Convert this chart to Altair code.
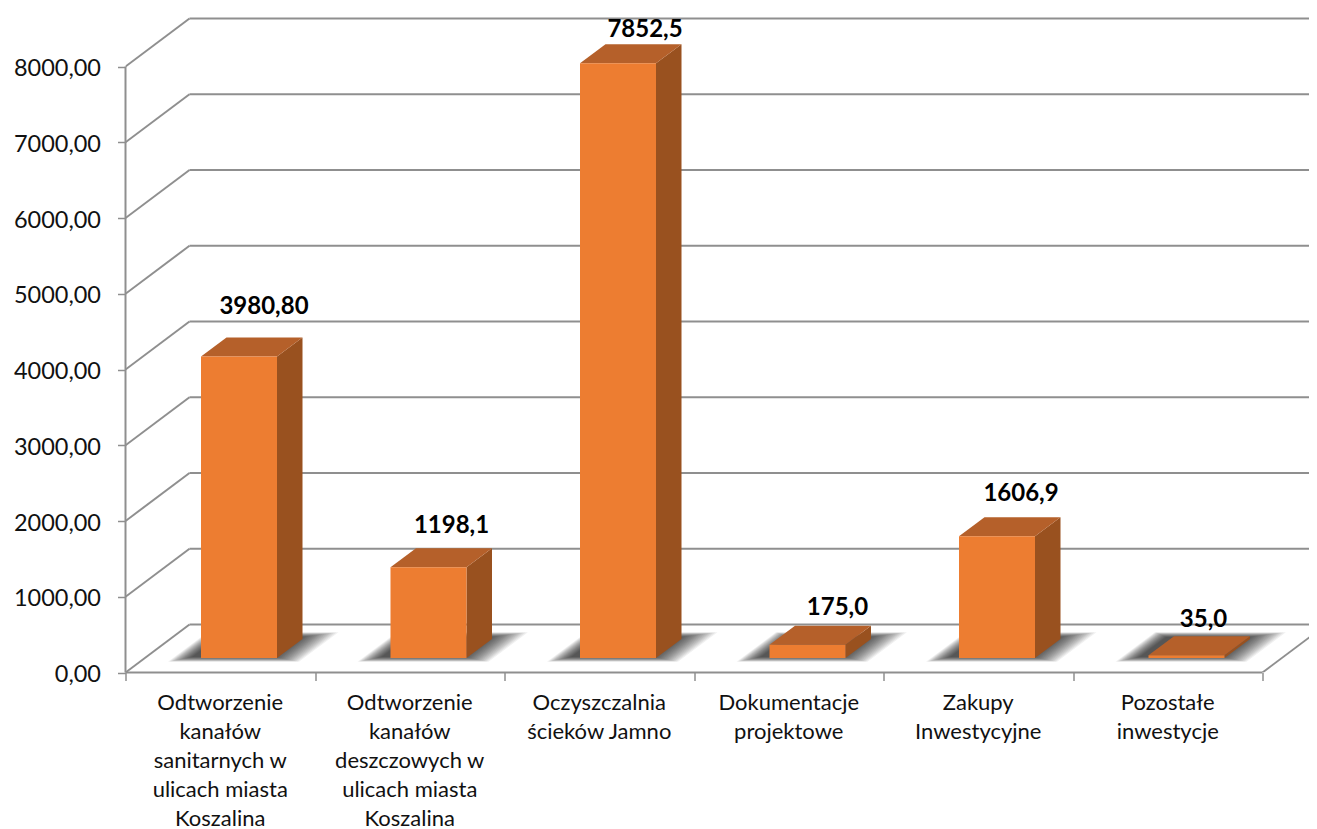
import altair as alt
import pandas as pd

# ---- chart data ----
categories = [
    "Odtworzenie\nkanałów\nsanitarnych w\nulicach miasta\nKoszalina",
    "Odtworzenie\nkanałów\ndeszczowych w\nulicach miasta\nKoszalina",
    "Oczyszczalnia\nścieków Jamno",
    "Dokumentacje\nprojektowe",
    "Zakupy\nInwestycyjne",
    "Pozostałe\ninwestycje",
]
values = [3980.80, 1198.1, 7852.5, 175.0, 1606.9, 35.0]
value_labels = ["3980,80", "1198,1", "7852,5", "175,0", "1606,9", "35,0"]
y_ticks = [0, 1000, 2000, 3000, 4000, 5000, 6000, 7000, 8000]

# ---- layout (pixels on the reference) ----
PX_LEFT, PX_RIGHT, PX_TOP, PX_FLOOR = 125.5, 1309.0, 17.0, 672.5
PX_PER_CAT = 189.5
PX_PER_UNIT = 606.0 / 8000.0
WALL_DX, WALL_DY = 64.0, 48.0
BAR_X0, BAR_W = 75.5, 76.0
BAR_LIFT = 14.5
BAR_DX, BAR_DY = 25.5, 19.0
label_shift = [(25, 49), (23, 41), (27, 33), (30, 37), (24, 42), (17, 35)]

W = PX_RIGHT - PX_LEFT
H = PX_FLOOR - PX_TOP
xu = lambda px: px / PX_PER_CAT
yu = lambda px: px / PX_PER_UNIT
X_DOM = [0, xu(W)]
Y_DOM = [0, yu(H)]
n = len(categories)

GRID = "#8f8f8f"
FRONT = "#ED7D31"
SIDE = "#99511F"
TOP = "#B5602A"
FONT = "Lato"

xs = alt.Scale(domain=X_DOM, nice=False, zero=False)
ys = alt.Scale(domain=Y_DOM, nice=False, zero=False)
x_axis = alt.Axis(
    values=list(range(n + 1)), labels=False, domain=False, grid=False,
    ticks=True, tickColor=GRID, tickWidth=1.5, tickSize=8, title=None,
)
y_axis = alt.Axis(
    values=y_ticks, domain=False, grid=False, ticks=True, tickColor=GRID,
    tickWidth=1.5, tickSize=8, labelFont=FONT, labelFontSize=23.5,
    labelColor="#111111", labelPadding=17, labelOffset=2, title=None,
    labelExpr="replace(format(datum.value,'.2f'),'.',',')",
)
X = lambda f="x": alt.X(f + ":Q", scale=xs, axis=x_axis)
Y = lambda f="y": alt.Y(f + ":Q", scale=ys, axis=y_axis, stack=None)


def para(pid, a, b, f, dx, dy):
    """Parallelogram as an area: front edge a..b at height f, shifted back by dx, dy."""
    pts = sorted({a, a + dx, b, b + dx})
    rows = []
    for x in pts:
        low = f if x <= b else f + dy * (x - b) / dx
        high = f + dy if x >= a + dx else f + dy * (x - a) / dx
        rows.append({"id": pid, "x": x, "y": high, "y2": low})
    return rows


# walls
back = pd.DataFrame({"v": y_ticks})
back["x"] = xu(WALL_DX)
back["x2"] = X_DOM[1]
back["y"] = back["v"] + yu(WALL_DY)

diag = []
for v in y_ticks:
    diag.append({"id": v, "x": 0, "y": v})
    diag.append({"id": v, "x": xu(WALL_DX), "y": v + yu(WALL_DY)})
diag.append({"id": "r", "x": n, "y": 0})
diag.append({"id": "r", "x": n + xu(WALL_DX), "y": yu(WALL_DY)})
diag = pd.DataFrame(diag)

frame = pd.DataFrame(
    [
        {"x": 0, "x2": 0, "y": 0, "y2": y_ticks[-1]},
        {"x": 0, "x2": n, "y": 0, "y2": 0},
    ]
)

# shadows, sides, tops
shadow_rows, side_rows, top_rows, front_rows, lab_rows, cat_rows = [], [], [], [], [], []
for i, val in enumerate(values):
    a = i + xu(BAR_X0)
    b = a + xu(BAR_W)
    base = yu(BAR_LIFT)
    top = base + val
    dx, dy = xu(BAR_DX), yu(BAR_DY)
    front_rows.append({"x": a, "x2": b, "y": base, "y2": top})
    side_rows += [
        {"id": i, "x": b, "y": top, "y2": base},
        {"id": i, "x": b + dx, "y": top + dy, "y2": base + dy},
    ]
    top_rows += para(i, a, b, top, dx, dy)
    for lev in range(17):
        e = 14 - 1.5 * lev
        sa = a - xu(19 + e)
        sb = b + xu(8 + e)
        sf = base - yu(1 + e * 0.2)
        sdy = yu(24 + e * 0.4)
        sdx = sdy * PX_PER_UNIT * (WALL_DX / WALL_DY) / PX_PER_CAT
        shadow_rows += para(f"{i}-{lev}", sa, sb, sf, sdx, sdy)
    sx, sy = label_shift[i]
    lab_rows.append({"x": (a + b) / 2 + xu(sx), "y": top + yu(sy), "t": value_labels[i]})
    cat_rows.append({"x": i + 0.5, "t": categories[i]})

back_l = alt.Chart(back).mark_rule(color=GRID, strokeWidth=2, clip=True).encode(
    x=X(), x2="x2:Q", y=Y()
)
diag_l = alt.Chart(diag).mark_line(color=GRID, strokeWidth=2, clip=True).encode(
    x=X(), y=Y(), detail="id:N"
)
frame_l = alt.Chart(frame).mark_rule(color=GRID, strokeWidth=2).encode(
    x=X(), x2="x2:Q", y=Y(), y2="y2:Q"
)
shadow_l = alt.Chart(pd.DataFrame(shadow_rows)).mark_area(
    color="#000000", opacity=0.06, interpolate="linear"
).encode(x=X(), y=Y(), y2="y2:Q", detail="id:N")
side_l = alt.Chart(pd.DataFrame(side_rows)).mark_area(color=SIDE).encode(
    x=X(), y=Y(), y2="y2:Q", detail="id:N"
)
top_l = alt.Chart(pd.DataFrame(top_rows)).mark_area(color=TOP).encode(
    x=X(), y=Y(), y2="y2:Q", detail="id:N"
)
front_l = alt.Chart(pd.DataFrame(front_rows)).mark_rect(color=FRONT).encode(
    x=X(), x2="x2:Q", y=Y(), y2="y2:Q"
)
label_l = alt.Chart(pd.DataFrame(lab_rows)).mark_text(
    font=FONT, fontSize=24, fontWeight="bold", color="#000000", baseline="middle"
).encode(x=X(), y=Y(), text="t:N")
cat_l = alt.Chart(pd.DataFrame(cat_rows)).mark_text(
    font=FONT, fontSize=22, color="#111111", lineBreak="\n", lineHeight=29,
    baseline="top", align="center",
).encode(x=X(), y=alt.value(H + 20.5), text="t:N")

chart = (
    alt.layer(back_l, diag_l, frame_l, shadow_l, side_l, top_l, front_l, label_l, cat_l)
    .properties(
        width=W,
        height=H,
        background="white",
        autosize=alt.AutoSizeParams(type="none"),
        padding={"left": PX_LEFT - 8, "top": PX_TOP - 8, "right": 0, "bottom": 829 - PX_FLOOR},
    )
    .configure_view(stroke=None)
)
chart.save("out.html", embed_options={"renderer": "svg", "actions": False})
